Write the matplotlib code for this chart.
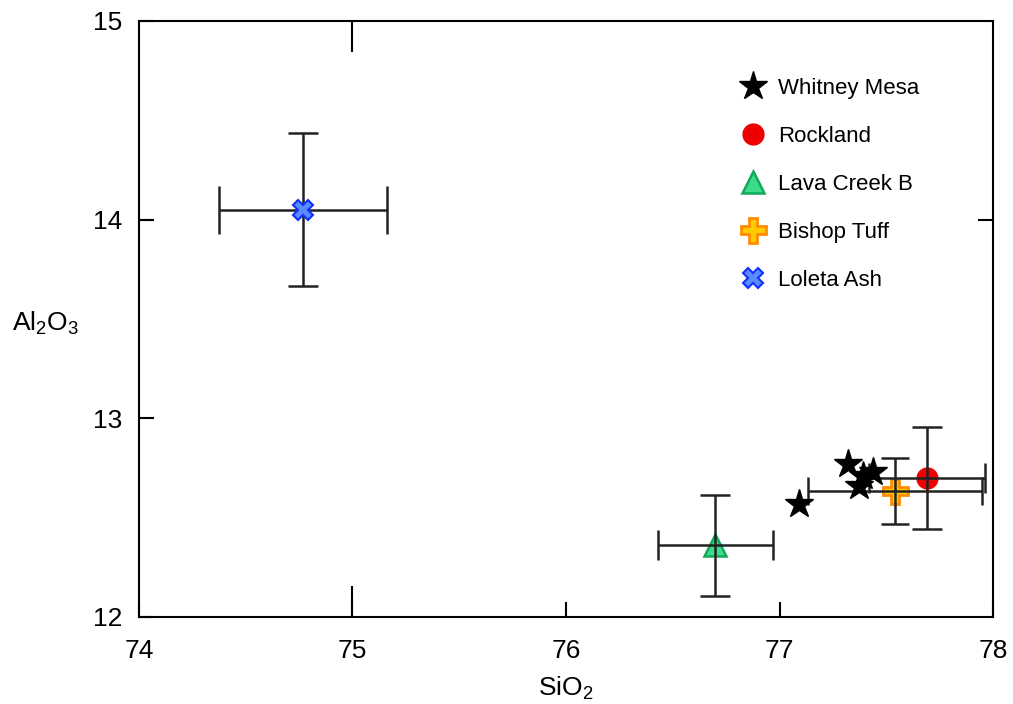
import matplotlib
matplotlib.use('Agg')
import matplotlib.pyplot as plt
from matplotlib.ticker import FixedLocator

plt.rcParams['font.family'] = ['Liberation Sans', 'DejaVu Sans']
plt.rcParams['mathtext.default'] = 'regular'

# SiO2 / Al2O3 values
whitney_x = [77.09, 77.32, 77.37, 77.39, 77.44]
whitney_y = [12.57, 12.77, 12.66, 12.71, 12.73]

rockland_x, rockland_y = 77.69, 12.70
rockland_xerr, rockland_yerr = 0.27, 0.256

lava_x, lava_y = 76.70, 12.36
lava_xerr, lava_yerr = 0.27, 0.256

bishop_x, bishop_y = 77.54, 12.635
bishop_xerr, bishop_yerr = 0.407, 0.166

loleta_x, loleta_y = 74.77, 14.05
loleta_xerr, loleta_yerr = 0.393, 0.385

err_color = '#222222'
lw = 1.8

fig = plt.figure(figsize=(10.13, 7.04), dpi=100)
ax = fig.add_axes([0.1372, 0.1236, 0.8431, 0.8466])

# error bars (drawn under the star markers)
ax.errorbar(loleta_x, loleta_y, yerr=loleta_yerr, fmt='none', ecolor=err_color,
            elinewidth=lw, capsize=10.5, capthick=lw, zorder=2)
ax.errorbar(loleta_x, loleta_y, xerr=loleta_xerr, fmt='none', ecolor=err_color,
            elinewidth=lw, capsize=17, capthick=lw, zorder=2)

ax.plot(lava_x, lava_y, marker='^', ms=16, mfc='#3ddc8c', mec='#14a85a',
        mew=1.8, ls='none', zorder=2, label='Lava Creek B')
ax.errorbar(lava_x, lava_y, xerr=lava_xerr, yerr=lava_yerr, fmt='none',
            ecolor=err_color, elinewidth=lw, capsize=10.5, capthick=lw, zorder=3)

ax.plot(rockland_x, rockland_y, marker='o', ms=15, mfc='#ee0000', mec='#ee0000',
        ls='none', zorder=2, label='Rockland')
ax.errorbar(rockland_x, rockland_y, xerr=rockland_xerr, yerr=rockland_yerr, fmt='none',
            ecolor=err_color, elinewidth=lw, capsize=10.5, capthick=lw, zorder=3)

ax.plot(bishop_x, bishop_y, marker='P', ms=18, mfc='#ffcc00', mec='#ff8c00',
        mew=2, ls='none', zorder=2, label='Bishop Tuff')
ax.errorbar(bishop_x, bishop_y, xerr=bishop_xerr, yerr=bishop_yerr, fmt='none',
            ecolor=err_color, elinewidth=lw, capsize=10, capthick=lw, zorder=3)

ax.plot(loleta_x, loleta_y, marker='X', ms=14, mfc='#5b8cff', mec='#1030ff',
        mew=1.5, ls='none', zorder=4, label='Loleta Ash')

ax.plot(whitney_x, whitney_y, marker='*', ms=21, color='black', ls='none',
        zorder=5, label='Whitney Mesa')

ax.set_xlim(74, 78)
ax.set_ylim(12, 15)

ax.xaxis.remove_overlapping_locs = False
ax.yaxis.remove_overlapping_locs = False
ax.xaxis.set_major_locator(FixedLocator([74, 75, 76, 77, 78]))
ax.xaxis.set_minor_locator(FixedLocator([75]))
ax.yaxis.set_major_locator(FixedLocator([12, 13, 14, 15]))
ax.yaxis.set_minor_locator(FixedLocator([14]))

ax.tick_params(axis='x', which='major', direction='in', length=11, width=1.5,
               top=False, bottom=True, labelsize=19, pad=16)
ax.tick_params(axis='x', which='minor', direction='in', length=22, width=1.5,
               top=True, bottom=True)
ax.tick_params(axis='y', which='major', direction='in', length=11, width=1.5,
               left=True, right=False, labelsize=19, pad=12)
ax.tick_params(axis='y', which='minor', direction='in', length=11, width=1.5,
               left=True, right=True)

for sp in ax.spines.values():
    sp.set_linewidth(1.5)

ax.set_xlabel('SiO$_2$', fontsize=19)
ax.xaxis.set_label_coords(0.5, -0.097)
ax.xaxis.label.set_va('top')
ax.set_ylabel('Al$_2$O$_3$', fontsize=19, rotation=0, ha='center', va='center')
ax.yaxis.set_label_coords(-0.109, 0.493)

handles, labels = ax.get_legend_handles_labels()
order = ['Whitney Mesa', 'Rockland', 'Lava Creek B', 'Bishop Tuff', 'Loleta Ash']
hmap = dict(zip(labels, handles))
ax.legend([hmap[k] for k in order], order, loc='upper left',
          bbox_to_anchor=(0.703, 0.905), frameon=False, fontsize=16,
          handlelength=1.2, handletextpad=0.55, labelspacing=1.22,
          borderpad=0, borderaxespad=0, numpoints=1)

fig.savefig('out.png', dpi=100)
